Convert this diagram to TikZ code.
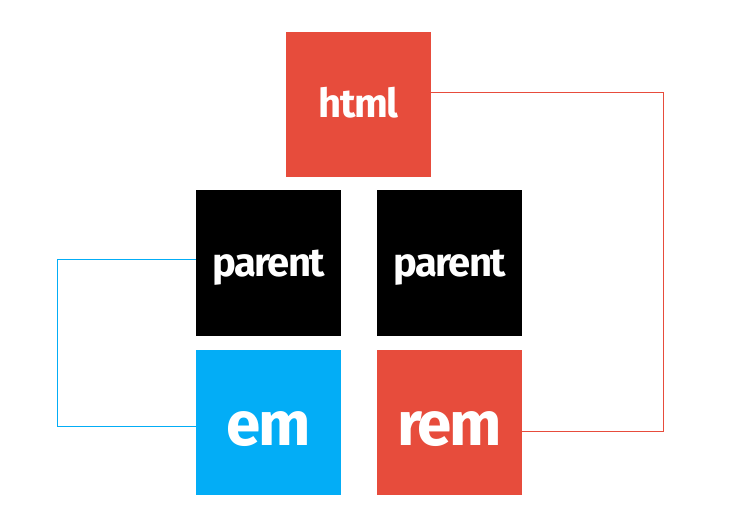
\documentclass[tikz,border=0pt]{standalone}
\usepackage{fontspec}
\setmainfont{Fira Sans}
\usepackage{tikz}
\usetikzlibrary{positioning}
\definecolor{remred}{HTML}{E74C3C}
\definecolor{emblue}{HTML}{03ADF6}
\tikzstyle{box}=[rectangle,minimum size=145pt,inner sep=0pt,text=white,
text height=26pt,text depth=0pt,
font=\fontsize{40}{40}\selectfont\bfseries\addfontfeatures{LetterSpace=-4}]
\tikzstyle{redbox}=[box,fill=remred]
\tikzstyle{blackbox}=[box,fill=black]
\tikzstyle{bluebox}=[box,fill=emblue]
\tikzstyle{bigtext}=[text height=47pt,
font=\fontsize{62}{62}\selectfont\bfseries\addfontfeatures{LetterSpace=-4}]
\tikzstyle{redline}=[draw=remred,line width=0.8pt]
\tikzstyle{blueline}=[draw=emblue,line width=0.8pt]

\begin{document}
\begin{tikzpicture}[x=1pt,y=-1pt,node distance=14pt]
			\useasboundingbox (0,0) rectangle (738,521);
			% top
			\node[redbox] (html) at (358.5,104.5) {html};
			% parents
			\node[blackbox] (pl) at (268.5,263) {parent};
			\node[blackbox] (pr) at (449.5,263) {parent};
			% units
			\node[bluebox,bigtext,below=of pl] (em) {em};
			\node[redbox,bigtext,below=of pr] (rem) {rem};

			% connectors
			\draw[blueline] ([yshift=4pt]pl.west) -- ++(-138,0) |- ([yshift=-3.5pt]em.west);
			\draw[redline] ([yshift=12pt]html.east) -- ++(232,0) |- ([yshift=-8.5pt]rem.east);
		\end{tikzpicture}
\end{document}
